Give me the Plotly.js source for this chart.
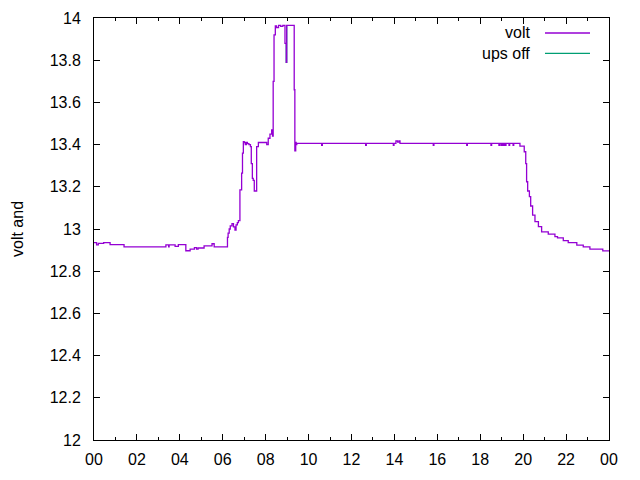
<!DOCTYPE html>
<html>
<head>
<meta charset="utf-8">
<script src="https://cdn.plot.ly/plotly-3.0.1.min.js"></script>
<style>html,body{margin:0;padding:0;background:#fff;}#chart{width:640px;height:480px;}</style>
</head>
<body>
<div id="chart"></div>
<script>
// Series names
const seriesNames = ["volt", "ups off"];
const seriesColors = ["#9400d3", "#009e73"];

// Time of day (hours) and voltage readings
const voltHours = [
  0.00, 0.10, 0.12, 0.18, 0.20, 0.40, 0.45, 0.70, 0.75, 1.35, 1.40,
  3.30, 3.35, 3.45, 3.48, 3.50, 3.75, 3.78, 3.90, 3.93, 4.25, 4.28, 4.45, 4.48,
  4.65, 4.68, 4.75, 4.78, 4.85, 5.10, 5.13, 5.45, 5.50, 5.55, 5.60, 6.18,
  6.22, 6.25, 6.30, 6.35, 6.43, 6.50, 6.57, 6.62, 6.68, 6.73, 6.80, 6.88, 6.92, 6.96,
  7.00, 7.05, 7.10, 7.15, 7.22, 7.29, 7.33, 7.38, 7.42, 7.47, 7.54, 7.58, 7.66,
  8.00, 8.05, 8.12, 8.20, 8.28, 8.32, 8.35, 8.39, 8.45, 8.50, 8.60, 8.70, 8.80,
  8.88, 8.90, 8.94, 8.96, 8.98, 9.30, 9.33, 9.36, 9.40, 9.42, 9.45,
  10.58, 10.61, 10.64, 12.63, 12.66, 12.69, 13.92, 13.95, 13.98, 14.04, 14.07, 14.15, 14.22, 14.26, 14.30,
  15.78, 15.81, 15.84, 17.34, 17.37, 17.40, 18.47, 18.50, 18.53, 18.84, 18.87, 18.90,
  18.97, 19.00, 19.03, 19.06, 19.09, 19.13, 19.17, 19.20, 19.23, 19.31, 19.34, 19.37,
  19.50, 19.53, 19.56, 19.82, 19.85, 20.00,
  20.05, 20.12, 20.16, 20.21, 20.29, 20.35, 20.44, 20.55, 20.71, 20.86, 21.17, 21.48,
  21.60, 21.87, 22.10, 22.50, 22.80, 23.11, 23.71, 24.00
];
const voltValues = [
  12.935, 12.935, 12.925, 12.925, 12.932, 12.932, 12.935, 12.935, 12.926, 12.926, 12.915,
  12.915, 12.925, 12.925, 12.915, 12.925, 12.925, 12.918, 12.918, 12.926, 12.926, 12.897, 12.897, 12.905,
  12.905, 12.912, 12.912, 12.905, 12.910, 12.910, 12.920, 12.920, 12.930, 12.930, 12.915, 12.915,
  12.960, 12.980, 13.000, 13.015, 13.025, 13.010, 12.995, 13.020, 13.030, 13.040, 13.185, 13.265, 13.360, 13.414,
  13.410, 13.400, 13.410, 13.405, 13.400, 13.390, 13.310, 13.240, 13.230, 13.180, 13.180, 13.390, 13.410,
  13.410, 13.400, 13.430, 13.450, 13.470, 13.440, 13.700, 13.920, 13.962, 13.955, 13.965, 13.960, 13.965,
  13.965, 13.880, 13.880, 13.790, 13.965, 13.965, 13.660, 13.370, 13.410, 13.400, 13.406,
  13.406, 13.397, 13.406, 13.406, 13.397, 13.406, 13.406, 13.397, 13.406, 13.406, 13.417, 13.412, 13.417, 13.406, 13.406,
  13.406, 13.397, 13.406, 13.406, 13.397, 13.406, 13.406, 13.397, 13.406, 13.406, 13.397, 13.406,
  13.397, 13.406, 13.397, 13.406, 13.397, 13.406, 13.397, 13.406, 13.406, 13.406, 13.397, 13.406,
  13.406, 13.397, 13.406, 13.406, 13.393, 13.393,
  13.366, 13.310, 13.224, 13.180, 13.153, 13.109, 13.066, 13.035, 13.011, 12.986, 12.976, 12.964,
  12.958, 12.945, 12.935, 12.924, 12.915, 12.905, 12.896, 12.896
];

// "ups off" series (hidden under the volt line)
const upsHours = [8.94, 8.96, 8.98];
const upsValues = [13.880, 13.790, 13.965];

// Axis ticks
const xTickVals = [0, 2, 4, 6, 8, 10, 12, 14, 16, 18, 20, 22, 24];
const xTickText = ["00", "02", "04", "06", "08", "10", "12", "14", "16", "18", "20", "22", "00"];
const yTickVals = [12, 12.2, 12.4, 12.6, 12.8, 13, 13.2, 13.4, 13.6, 13.8, 14];
const yTickText = ["12", "12.2", "12.4", "12.6", "12.8", "13", "13.2", "13.4", "13.6", "13.8", "14"];
const yTitle = "volt and";

const FONT = "Liberation Sans, Arial, sans-serif";
const FS = 16;

const traces = [
  {x: upsHours, y: upsValues, name: seriesNames[1], type: "scatter", mode: "lines",
   line: {color: seriesColors[1], width: 1.3, shape: "hv"}},
  {x: voltHours, y: voltValues, name: seriesNames[0], type: "scatter", mode: "lines",
   line: {color: seriesColors[0], width: 1.3, shape: "hv"}}
];

const axisCommon = {
  showgrid: false, zeroline: false, showline: true, linecolor: "#000", linewidth: 1,
  mirror: "allticks", ticks: "inside", ticklen: 6, tickcolor: "#000", tickwidth: 1,
  tickfont: {family: FONT, size: FS, color: "#000"}
};

const layout = {
  width: 640, height: 480,
  margin: {l: 94, r: 31, t: 18, b: 40},
  paper_bgcolor: "#fff", plot_bgcolor: "#fff",
  showlegend: false,
  font: {family: FONT, size: FS, color: "#000"},
  xaxis: Object.assign({}, axisCommon, {
    range: [0, 24], tickmode: "array", tickvals: xTickVals, ticktext: xTickText,
    minor: {ticks: "inside", ticklen: 3, dtick: 1, tick0: 0, tickcolor: "#000"},
    ticklabelstandoff: 5
  }),
  yaxis: Object.assign({}, axisCommon, {
    range: [12, 14], tickmode: "array", tickvals: yTickVals, ticktext: yTickText,
    ticklabelstandoff: 9,
    title: {text: yTitle, font: {family: FONT, size: FS, color: "#000"}, standoff: 22}
  }),
  annotations: [
    {xref: "paper", yref: "paper", x: 0.850, y: 0.9645, xanchor: "right", yanchor: "middle",
     text: seriesNames[0], showarrow: false, font: {family: FONT, size: FS, color: "#000"}},
    {xref: "paper", yref: "paper", x: 0.850, y: 0.9164, xanchor: "right", yanchor: "middle",
     text: seriesNames[1], showarrow: false, font: {family: FONT, size: FS, color: "#000"}}
  ],
  shapes: [
    {type: "line", xref: "paper", yref: "paper", x0: 0.8757, x1: 0.9631, y0: 0.9645, y1: 0.9645,
     line: {color: seriesColors[0], width: 1.3}},
    {type: "line", xref: "paper", yref: "paper", x0: 0.8757, x1: 0.9631, y0: 0.9164, y1: 0.9164,
     line: {color: seriesColors[1], width: 1.3}}
  ]
};

Plotly.newPlot("chart", traces, layout, {displayModeBar: false, staticPlot: true});
</script>
</body>
</html>
